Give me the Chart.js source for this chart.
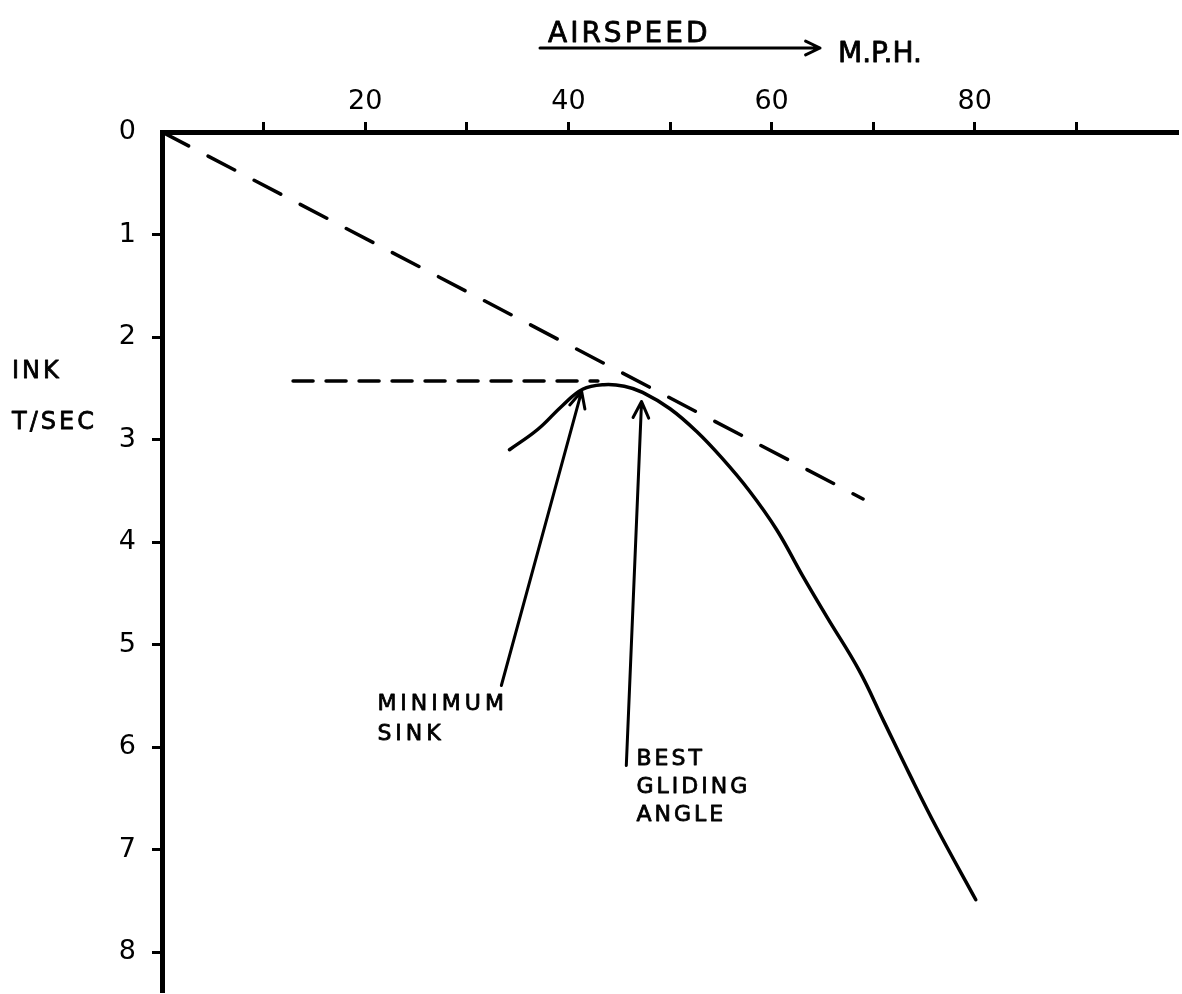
<!DOCTYPE html>
<html lang="en">
<head>
  <meta charset="UTF-8" />
  <title>Glider polar – sink rate against airspeed</title>
  <script src="https://cdn.jsdelivr.net/npm/chart.js@4"></script>
  <style>
    html, body { margin: 0; padding: 0; background: #fff; }
    #wrap { position: relative; width: 1182px; height: 994px; }
  </style>
</head>
<body>
  <div id="wrap"><canvas id="polar"></canvas></div>

  <script>
    // airspeed (m.p.h.) and sink (ft/sec)
    const polarSpeed = [34.2, 37.0, 39.4, 41.4, 43.5, 45.5, 47.3, 50.0, 52.6, 55.1, 57.8,
                        60.5, 63.0, 65.5, 68.6, 71.0, 73.5, 76.2, 80.1];
    const polarSink  = [3.10, 2.90, 2.67, 2.51, 2.465, 2.48, 2.54, 2.70, 2.92, 3.18, 3.50,
                        3.88, 4.32, 4.74, 5.25, 5.74, 6.25, 6.78, 7.49];

    // tangent from the origin (best gliding angle)
    const tangentSpeed = [0, 69];
    const tangentSink  = [0, 3.58];

    // level line through minimum sink
    const minSinkSpeed = [12.9, 42.9];
    const minSinkValue = [2.43, 2.43];

    const xTickValues = [10, 20, 30, 40, 50, 60, 70, 80, 90];
    const xTickLabels = ['', '20', '', '40', '', '60', '', '80', ''];
    const yTickValues = [0, 1, 2, 3, 4, 5, 6, 7, 8];
    const yTickLabels = ['0', '1', '2', '3', '4', '5', '6', '7', '8'];

    // arrows: [tail speed, tail sink, head speed, head sink]
    const minSinkArrow = [33.4, 5.40, 41.3, 2.53];
    const bestGlideArrow = [45.7, 6.18, 47.2, 2.63];

    const FONT = '"DejaVu Sans", sans-serif';
    const toXY = (xs, ys) => xs.map((v, i) => ({ x: v, y: ys[i] }));

    function arrow(ctx, x0, y0, x1, y1, head) {
      const a = Math.atan2(y1 - y0, x1 - x0);
      ctx.beginPath();
      ctx.moveTo(x0, y0);
      ctx.lineTo(x1, y1);
      ctx.moveTo(x1 - head * Math.cos(a - 0.45), y1 - head * Math.sin(a - 0.45));
      ctx.lineTo(x1, y1);
      ctx.lineTo(x1 - head * Math.cos(a + 0.45), y1 - head * Math.sin(a + 0.45));
      ctx.stroke();
    }

    // slightly heavier text, closer to the pen lettering
    function lines(ctx, rows, x, y, step) {
      rows.forEach((t, i) => {
        ctx.fillText(t, x, y + i * step);
        ctx.strokeText(t, x, y + i * step);
      });
    }

    const sketchNotes = {
      id: 'sketchNotes',
      afterDraw(chart) {
        const { ctx } = chart;
        const { x, y } = chart.scales;
        ctx.save();
        ctx.fillStyle = '#000';
        ctx.strokeStyle = '#000';
        ctx.lineCap = 'round';
        ctx.lineJoin = 'round';
        ctx.textBaseline = 'alphabetic';
        ctx.textAlign = 'left';
        ctx.lineWidth = 0.8;

        // top title with arrow
        ctx.font = '28px ' + FONT;
        ctx.letterSpacing = '3px';
        lines(ctx, ['AIRSPEED'], 548, 42, 0);
        ctx.letterSpacing = '0px';
        lines(ctx, ['M.P.H.'], 838, 62, 0);

        // left axis title (cut by the page edge)
        ctx.font = '24px ' + FONT;
        ctx.letterSpacing = '3px';
        lines(ctx, ['INK', 'T/SEC'], 12, 378, 51);

        // annotations
        ctx.font = '22px ' + FONT;
        ctx.letterSpacing = '4px';
        lines(ctx, ['MINIMUM', 'SINK'], x.getPixelForValue(21.2), 710, 30);
        ctx.letterSpacing = '3px';
        lines(ctx, ['BEST', 'GLIDING', 'ANGLE'], x.getPixelForValue(46.7), 765, 28);

        ctx.lineWidth = 3;
        arrow(ctx, 540, 48, 820, 48, 16);
        [minSinkArrow, bestGlideArrow].forEach(a => {
          arrow(ctx, x.getPixelForValue(a[0]), y.getPixelForValue(a[1]),
                x.getPixelForValue(a[2]), y.getPixelForValue(a[3]), 18);
        });
        ctx.restore();
      }
    };

    new Chart(document.getElementById('polar'), {
      type: 'line',
      data: {
        datasets: [
          {
            label: 'Sink rate',
            data: toXY(polarSpeed, polarSink),
            borderColor: '#000',
            borderWidth: 3.5,
            tension: 0.4,
            pointRadius: 0,
            borderCapStyle: 'round'
          },
          {
            label: 'Best gliding angle',
            data: toXY(tangentSpeed, tangentSink),
            borderColor: '#000',
            borderWidth: 3.5,
            borderDash: [30, 22],
            borderCapStyle: 'round',
            pointRadius: 0
          },
          {
            label: 'Minimum sink',
            data: toXY(minSinkSpeed, minSinkValue),
            borderColor: '#000',
            borderWidth: 3.5,
            borderDash: [20, 13],
            borderCapStyle: 'round',
            pointRadius: 0
          }
        ]
      },
      options: {
        responsive: true,
        maintainAspectRatio: false,
        animation: false,
        layout: { padding: { left: 0, top: 0, right: 4, bottom: 2 } },
        plugins: {
          legend: { display: false },
          tooltip: { enabled: false }
        },
        scales: {
          x: {
            type: 'linear',
            position: 'top',
            min: 0,
            max: 100,
            afterBuildTicks: s => { s.ticks = xTickValues.map(v => ({ value: v })); },
            afterFit: s => { s.height = 132; s.paddingLeft = 0; s.paddingRight = 0; },
            ticks: {
              autoSkip: false,
              maxRotation: 0,
              padding: 4,
              color: '#000',
              font: { family: FONT, size: 27 },
              callback: (v, i) => xTickLabels[i]
            },
            grid: { drawOnChartArea: false, tickLength: 10, tickWidth: 3, tickColor: '#000' },
            border: { color: '#000', width: 5 }
          },
          y: {
            type: 'linear',
            reverse: true,
            min: 0,
            max: 8.39,
            afterBuildTicks: s => { s.ticks = yTickValues.map(v => ({ value: v })); },
            afterFit: s => { s.width = 162; s.paddingTop = 0; s.paddingBottom = 0; },
            ticks: {
              autoSkip: false,
              padding: 16,
              color: '#000',
              font: { family: FONT, size: 27 },
              callback: (v, i) => yTickLabels[i]
            },
            grid: {
              drawOnChartArea: false,
              tickLength: 10,
              tickWidth: 3,
              tickColor: c => (c.tick && c.tick.value === 0) ? 'rgba(0,0,0,0)' : '#000'
            },
            border: { color: '#000', width: 5 }
          }
        }
      },
      plugins: [sketchNotes]
    });
  </script>
</body>
</html>
